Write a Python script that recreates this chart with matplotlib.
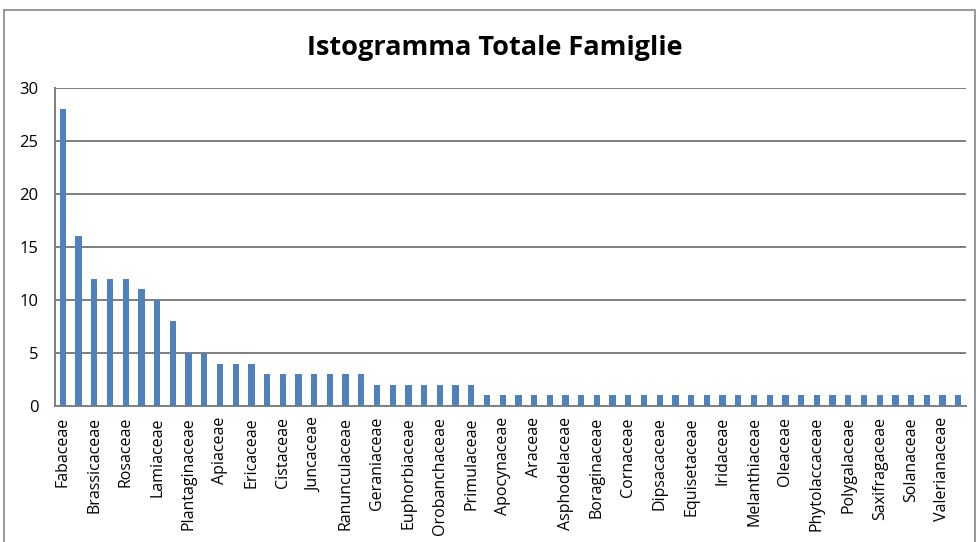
import matplotlib
matplotlib.use("Agg")
import matplotlib.pyplot as plt
from matplotlib.patches import Rectangle

# famiglie (solo quelle pari hanno l'etichetta visibile nel grafico)
famiglie = [
    "Fabaceae", "Asteraceae", "Brassicaceae", "Poaceae", "Rosaceae",
    "Caryophyllaceae", "Lamiaceae", "Liliaceae", "Plantaginaceae", "Salicaceae",
    "Apiaceae", "Asparagaceae", "Ericaceae", "Crassulaceae", "Cistaceae",
    "Cyperaceae", "Juncaceae", "Orchidaceae", "Ranunculaceae", "Rubiaceae",
    "Geraniaceae", "Convolvulaceae", "Euphorbiaceae", "Malvaceae", "Orobanchaceae",
    "Papaveraceae", "Primulaceae", "Amaryllidaceae", "Apocynaceae", "Aquifoliaceae",
    "Araceae", "Aristolochiaceae", "Asphodelaceae", "Betulaceae", "Boraginaceae",
    "Caprifoliaceae", "Cornaceae", "Cucurbitaceae", "Dipsacaceae", "Dryopteridaceae",
    "Equisetaceae", "Fagaceae", "Iridaceae", "Linaceae", "Melanthiaceae",
    "Moraceae", "Oleaceae", "Oxalidaceae", "Phytolaccaceae", "Pinaceae",
    "Polygalaceae", "Ruscaceae", "Saxifragaceae", "Scrophulariaceae", "Solanaceae",
    "Urticaceae", "Valerianaceae", "Violaceae",
]
conteggi = [
    28, 16, 12, 12, 12, 11, 10, 8, 5, 5,
    4, 4, 4, 3, 3, 3, 3, 3, 3, 3,
    2, 2, 2, 2, 2, 2, 2, 1, 1, 1,
    1, 1, 1, 1, 1, 1, 1, 1, 1, 1,
    1, 1, 1, 1, 1, 1, 1, 1, 1, 1,
    1, 1, 1, 1, 1, 1, 1, 1,
]
yticks = [0, 5, 10, 15, 20, 25, 30]

plt.rcParams['font.family'] = ['Open Sans', 'DejaVu Sans']

fig = plt.figure(figsize=(9.76, 5.42), dpi=100)
ax = fig.add_axes([0.0564, 0.2509, 0.9334, 0.5867])

x = list(range(len(famiglie)))
ax.bar(x, conteggi, width=0.4, color='#4F81BD', zorder=3)

ax.set_xlim(-0.5, len(famiglie) - 0.5)
ax.set_ylim(0, 30)
ax.set_yticks(yticks)
ax.yaxis.grid(True, color='#7f7f7f', linewidth=1.4, zorder=0)
ax.tick_params(axis='y', length=0, labelsize=12, pad=12)

ax.set_xticks(x[::2])
ax.set_xticklabels(famiglie[::2], rotation=90, fontsize=11.5)
ax.tick_params(axis='x', length=0, pad=8)

for s in ['top', 'right']:
    ax.spines[s].set_visible(False)
ax.spines['left'].set_color('#7f7f7f')
ax.spines['bottom'].set_color('#7f7f7f')
ax.spines['left'].set_linewidth(1.4)
ax.spines['bottom'].set_linewidth(1.4)

fig.text(0.507, 0.912, "Istogramma Totale Famiglie", ha='center', va='center',
         fontsize=19.5, fontweight='bold', family=['Open Sans', 'DejaVu Sans'])

# bordo dell'area del grafico
fig.patches.append(Rectangle((4 / 976, -0.1), 971 / 976, 1.1 - 10 / 542,
                             transform=fig.transFigure, fill=False,
                             edgecolor='#868686', linewidth=1.2))

fig.savefig("out.png", dpi=100)
